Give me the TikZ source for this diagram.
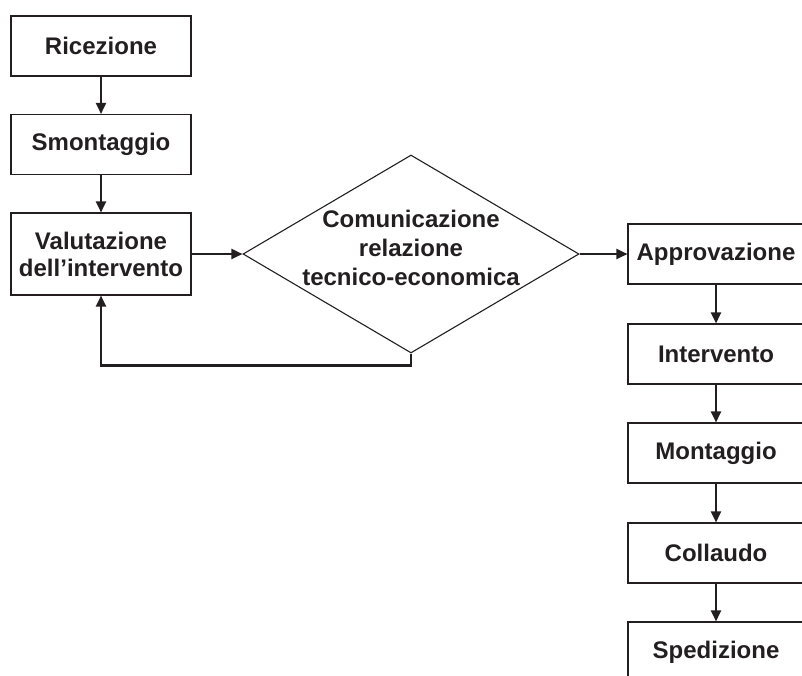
\documentclass[tikz,border=0pt]{standalone}
\usepackage{fontspec}
\setmainfont{Liberation Sans}
\usetikzlibrary{arrows.meta,shapes.geometric}
\definecolor{ink}{HTML}{231F20}
\begin{document}
\begin{tikzpicture}[x=1pt,y=-1pt,
  box/.style={draw=ink,line width=1.1pt,minimum width=180pt,minimum height=60pt,inner sep=0pt,
    font=\fontsize{24}{27}\selectfont\bfseries,text=ink,align=center},
  rbox/.style={box,minimum width=176pt},
  dec/.style={diamond,draw=ink,line width=1.1pt,minimum width=336pt,minimum height=198pt,inner sep=0pt},
  dtext/.style={font=\fontsize{24}{29}\selectfont\bfseries,text=ink,align=center,inner sep=0pt},
  flow/.style={draw=ink,line width=2.2pt,-{Triangle[length=11pt,width=10pt]}}]
\useasboundingbox (0,0) rectangle (802,675);
\clip (0,0) rectangle (802,675);
\node[box] (ric) at (101,46) {Ricezione};
\node[box] (smo) at (101,144.5) {Smontaggio};
\node[box,minimum height=82pt] (val) at (101,254) {Valutazione\\dell’intervento};
\node[dec] (dia) at (411,254) {};
\node[dtext] (dtx) at (411,248) {Comunicazione\\relazione\\tecnico-economica};
\node[rbox] (app) at (716,254) {Approvazione};
\node[rbox] (int) at (716,354) {Intervento};
\node[rbox] (mon) at (716,453) {Montaggio};
\node[rbox] (col) at (716,553) {Collaudo};
\node[rbox] (spe) at (716,652) {Spedizione};
\draw[flow] (ric) -- (smo);
\draw[flow] (smo) -- (val);
\draw[flow] (val) -- (dia.west);
\draw[flow] (dia.east) -- (app.west);
\draw[flow] (dia.south) -- ++(0,12) -| (val.south);
\draw[flow] (app) -- (int);
\draw[flow] (int) -- (mon);
\draw[flow] (mon) -- (col);
\draw[flow] (col) -- (spe);
\end{tikzpicture}
\end{document}
